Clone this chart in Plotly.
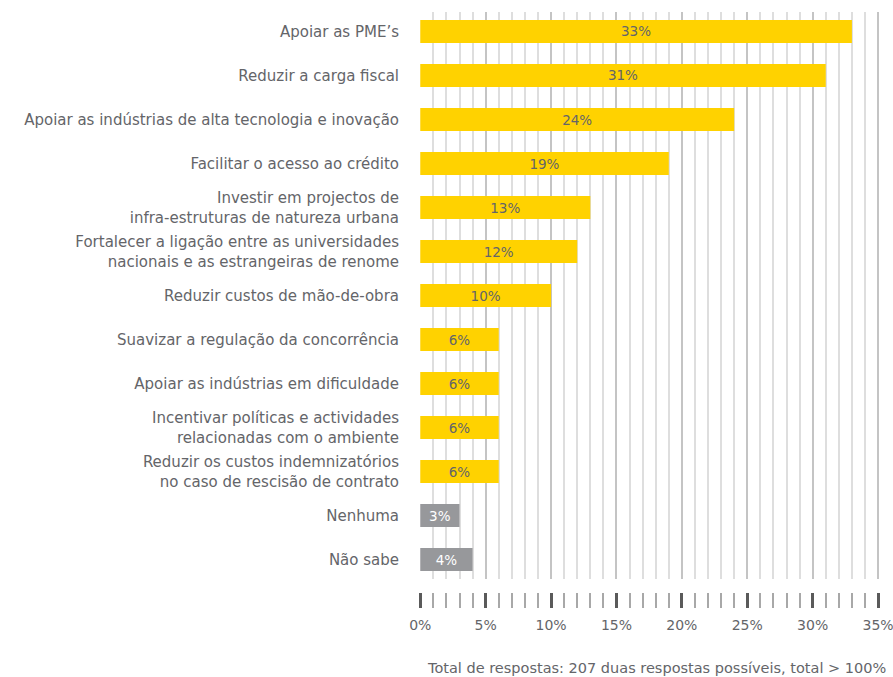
import plotly.graph_objects as go

categories = [
    "Apoiar as PME’s",
    "Reduzir a carga fiscal",
    "Apoiar as indústrias de alta tecnologia e inovação",
    "Facilitar o acesso ao crédito",
    "Investir em projectos de<br>infra-estruturas de natureza urbana",
    "Fortalecer a ligação entre as universidades<br>nacionais e as estrangeiras de renome",
    "Reduzir custos de mão-de-obra",
    "Suavizar a regulação da concorrência",
    "Apoiar as indústrias em dificuldade",
    "Incentivar políticas e actividades<br>relacionadas com o ambiente",
    "Reduzir os custos indemnizatórios<br>no caso de rescisão de contrato",
    "Nenhuma",
    "Não sabe",
]
values = [33, 31, 24, 19, 13, 12, 10, 6, 6, 6, 6, 3, 4]
is_neutral = [False] * 11 + [True, True]

x_ticks = [0, 5, 10, 15, 20, 25, 30, 35]
x_tick_labels = [f"{t}%" for t in x_ticks]
footnote = "Total de respostas: 207 duas respostas possíveis, total > 100%"

YELLOW = "#FFD200"
GREY_BAR = "#97989b"
TEXT = "#646569"
FONT = "DejaVu Sans"

bar_colors = [GREY_BAR if n else YELLOW for n in is_neutral]
text_colors = ["#ffffff" if n else TEXT for n in is_neutral]

fig = go.Figure()
fig.add_trace(go.Bar(
    x=values,
    y=categories,
    orientation="h",
    marker=dict(color=bar_colors, line=dict(width=0)),
    width=0.52,
    text=[f"{v}%" for v in values],
    textposition="inside",
    insidetextanchor="middle",
    textangle=0,
    constraintext="none",
    textfont=dict(family=FONT, size=13.5, color=text_colors),
    hoverinfo="skip",
))

# invisible trace so the detached tick axis gets drawn
fig.add_trace(go.Scatter(x=[0, 35], y=[None, None], xaxis="x2", yaxis="y",
                         mode="markers", showlegend=False, hoverinfo="skip"))

n = len(categories)
# a little headroom past 35% so its grid line and label are kept
x_range = [-0.02, 35.3]
fig.update_layout(
    width=893,
    height=677,
    margin=dict(l=420, r=11, t=12, b=85, autoexpand=False),
    paper_bgcolor="white",
    plot_bgcolor="white",
    showlegend=False,
    font=dict(family=FONT, size=15, color=TEXT),
    xaxis=dict(
        range=x_range,
        tickvals=x_ticks,
        showticklabels=False,
        ticks="",
        showgrid=True,
        gridcolor="#c4c4c4",
        gridwidth=2,
        minor=dict(dtick=1, tick0=0, showgrid=True, gridcolor="#dedede", gridwidth=1.5),
        zeroline=False,
        showline=False,
        fixedrange=True,
        automargin=False,
    ),
    xaxis2=dict(
        overlaying="x",
        anchor="free",
        position=0,
        range=x_range,
        tickvals=x_ticks,
        ticktext=x_tick_labels,
        ticks="outside",
        ticklen=15,
        tickwidth=3,
        tickcolor="#5a5a5a",
        minor=dict(dtick=1, tick0=0, ticks="outside", ticklen=15, tickwidth=1.5, tickcolor="#a8a8a8"),
        showgrid=False,
        zeroline=False,
        showline=False,
        tickfont=dict(family=FONT, size=14, color=TEXT),
        ticklabeloverflow="allow",
        ticklabelstandoff=5,
        side="bottom",
        automargin=False,
    ),
    yaxis=dict(
        domain=[0.0224, 1],
        range=[n - 1 + 0.443, -0.443],
        type="category",
        showgrid=False,
        zeroline=False,
        showline=False,
        ticks="",
        ticklabelstandoff=20,
        tickfont=dict(family=FONT, size=15, color=TEXT),
        automargin=False,
    ),
    annotations=[dict(
        text=footnote,
        xref="paper", yref="paper",
        x=1.012, y=-0.131,
        xanchor="right", yanchor="middle",
        showarrow=False,
        font=dict(family=FONT, size=14.5, color=TEXT),
    )],
)

fig.write_html("out.html")
